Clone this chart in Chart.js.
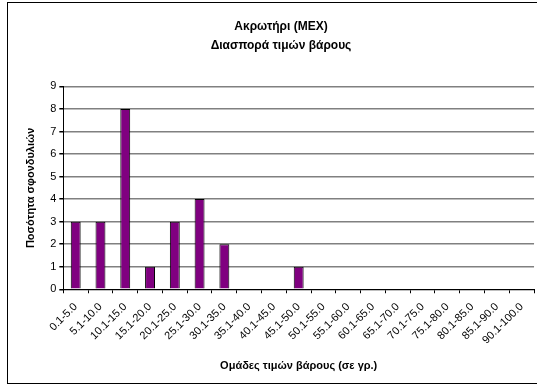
<!DOCTYPE html>
<html>
<head>
<meta charset="utf-8">
<script src="https://cdn.jsdelivr.net/npm/chart.js@4"></script>
<style>
    html, body { margin: 0; padding: 0; background: #fff; overflow: hidden; width: 537px; height: 387px; }
    #frame {
        position: absolute; left: 7px; top: 2px; width: 560px; height: 380px;
        border: 1px solid #000; border-right: none; background: #fff;
    }
    #wrap { position: absolute; left: 0; top: 0; width: 530px; height: 380px; }
</style>
</head>
<body>
<div id="frame"><div id="wrap"><canvas id="weightChart"></canvas></div></div>
<script>
// Ακρωτήρι (ΜΕΧ) - weight distribution
const categories = [
    "0.1-5.0", "5.1-10.0", "10.1-15.0", "15.1-20.0", "20.1-25.0",
    "25.1-30.0", "30.1-35.0", "35.1-40.0", "40.1-45.0", "45.1-50.0",
    "50.1-55.0", "55.1-60.0", "60.1-65.0", "65.1-70.0", "70.1-75.0",
    "75.1-80.0", "80.1-85.0", "85.1-90.0", "90.1-100.0"
];
const counts = [3, 3, 8, 1, 3, 4, 2, 0, 0, 1, 0, 0, 0, 0, 0, 0, 0, 0, 0];
const titleLines = ["Ακρωτήρι (ΜΕΧ)", "Διασπορά τιμών βάρους"];
const yAxisTitle = "Ποσότητα σφονδυλιών";
const xAxisTitle = "Ομάδες τιμών βάρους (σε γρ.)";

const FONT = "'Liberation Sans', Arial, sans-serif";

const ctx = document.getElementById('weightChart').getContext('2d');
new Chart(ctx, {
    type: 'bar',
    data: {
        labels: categories,
        datasets: [{
            data: counts,
            backgroundColor: '#800080',
            borderColor: '#000000',
            borderWidth: 1,
            barPercentage: 0.4,
            categoryPercentage: 1.0
        }]
    },
    options: {
        responsive: true,
        maintainAspectRatio: false,
        animation: false,
        layout: { padding: { left: 16, right: 0, top: 4, bottom: 4 } },
        plugins: {
            legend: { display: false },
            tooltip: { enabled: false },
            title: {
                display: true,
                text: titleLines,
                color: '#000',
                font: { family: FONT, size: 12, weight: 'bold', lineHeight: 1.6 },
                padding: { top: 10, bottom: 31 }
            }
        },
        scales: {
            x: {
                offset: true,
                grid: {
                    offset: true,
                    drawOnChartArea: false,
                    drawTicks: true,
                    tickLength: 4,
                    color: '#000'
                },
                border: { color: '#000', width: 1 },
                ticks: {
                    color: '#000',
                    font: { family: FONT, size: 11 },
                    minRotation: 45,
                    maxRotation: 45,
                    autoSkip: false,
                    padding: 7
                },
                title: {
                    display: true,
                    text: xAxisTitle,
                    color: '#000',
                    font: { family: FONT, size: 11, weight: 'bold' },
                    padding: { top: 6, bottom: 6 }
                }
            },
            y: {
                min: 0,
                max: 9,
                grid: {
                    color: '#808080',
                    lineWidth: 1.5,
                    drawTicks: true,
                    tickLength: 4,
                    tickColor: '#000'
                },
                border: { color: '#000', width: 1 },
                ticks: {
                    stepSize: 1,
                    color: '#000',
                    font: { family: FONT, size: 11 },
                    padding: 3
                },
                title: {
                    display: true,
                    text: yAxisTitle,
                    color: '#000',
                    font: { family: FONT, size: 11, weight: 'bold' },
                    padding: { top: 0, bottom: 10 }
                }
            }
        }
    }
});
</script>
</body>
</html>
